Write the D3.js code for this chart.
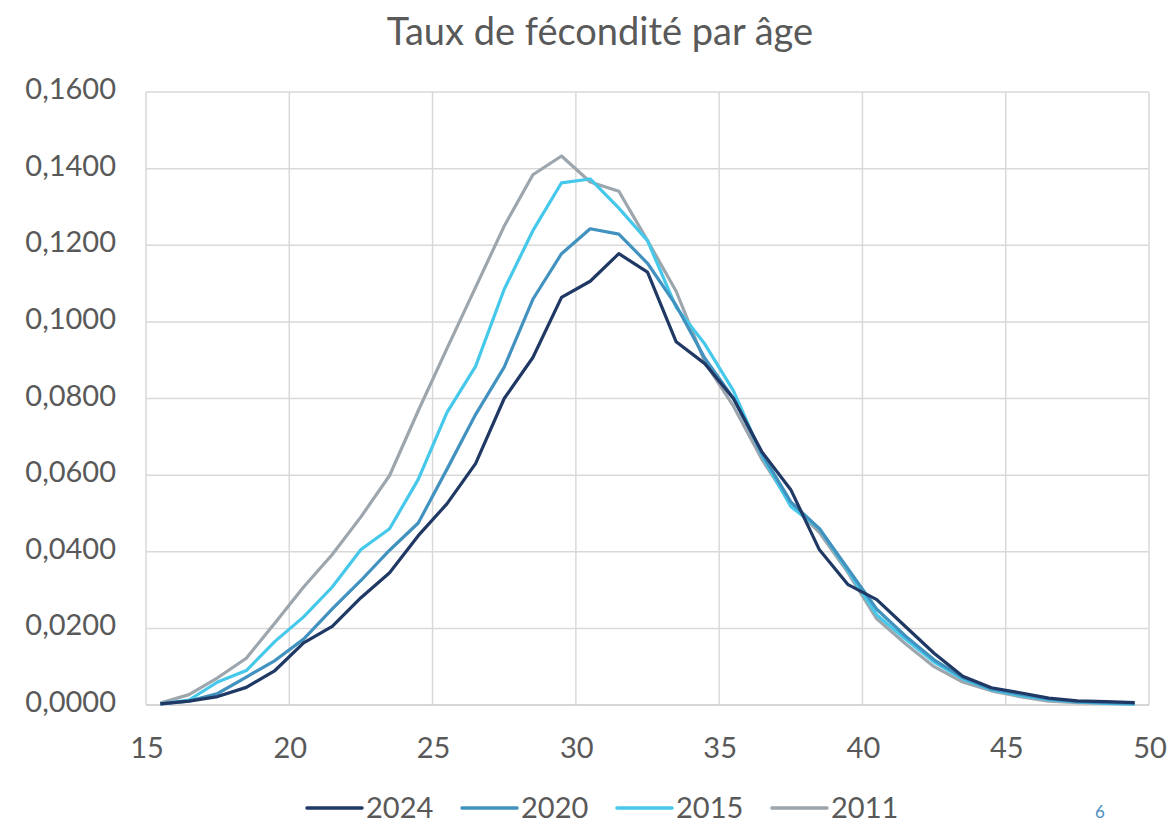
<!DOCTYPE html>
<html>
<head>
<meta charset="utf-8">
<script src="https://cdn.jsdelivr.net/npm/d3@7"></script>
<style>
	body { margin: 0; background: #fff; }
	text { font-family: Lato, "Open Sans", sans-serif; fill: #595959; }
</style>
</head>
<body>
<svg id="chart"></svg>
<script>
'use strict';

var WIDTH = 1170,
	HEIGHT = 824;

var margin = { top: 92, right: 21, bottom: 119, left: 146 };

// ages (mid-year), one value per age from 15.5 to 49.5
var ages = d3.range(15.5, 50, 1);

var years = ['2024', '2020', '2015', '2011'];

var rates2024 = [0.0003, 0.0010, 0.0022, 0.0046, 0.0090, 0.0162, 0.0205, 0.0280, 0.0345, 0.0442,
	0.0525, 0.0630, 0.0800, 0.0907, 0.1064, 0.1106, 0.1178, 0.1130, 0.0948, 0.0891,
	0.0800, 0.0660, 0.0562, 0.0405, 0.0314, 0.0275, 0.0205, 0.0135, 0.0075, 0.0045,
	0.0032, 0.0018, 0.0011, 0.0009, 0.0006];

var rates2020 = [0.0003, 0.0010, 0.0030, 0.0073, 0.0116, 0.0172, 0.0251, 0.0325, 0.0404, 0.0475,
	0.0615, 0.0758, 0.0882, 0.1059, 0.1178, 0.1243, 0.1229, 0.1153, 0.1043, 0.0905,
	0.0800, 0.0655, 0.0530, 0.0460, 0.0355, 0.0250, 0.0180, 0.0118, 0.0072, 0.0042,
	0.0028, 0.0016, 0.0009, 0.0006, 0.0004];

var rates2015 = [0.0003, 0.0013, 0.0060, 0.0090, 0.0166, 0.0230, 0.0308, 0.0406, 0.0460, 0.0589,
	0.0763, 0.0884, 0.1085, 0.1238, 0.1363, 0.1373, 0.1297, 0.1212, 0.1038, 0.0942,
	0.0820, 0.0650, 0.0518, 0.0460, 0.0350, 0.0235, 0.0172, 0.0112, 0.0068, 0.0040,
	0.0025, 0.0014, 0.0008, 0.0004, 0.0002];

var rates2011 = [0.0005, 0.0027, 0.0071, 0.0122, 0.0214, 0.0308, 0.0393, 0.0491, 0.0599, 0.0768,
	0.0930, 0.1090, 0.1250, 0.1384, 0.1433, 0.1365, 0.1341, 0.1212, 0.1080, 0.0895,
	0.0780, 0.0640, 0.0525, 0.0450, 0.0345, 0.0225, 0.0160, 0.0100, 0.0060, 0.0037,
	0.0022, 0.0010, 0.0006, 0.0004, 0.0002];

var xTicks = [15, 20, 25, 30, 35, 40, 45, 50];
var yTicks = [0, 0.02, 0.04, 0.06, 0.08, 0.10, 0.12, 0.14, 0.16];

var colors = ['#1f3864', '#4292c0', '#45c8ea', '#9da5ad'];

var series = [rates2024, rates2020, rates2015, rates2011].map(function (vals, i) {
	return { name: years[i], color: colors[i], values: vals.map(function (v, j) { return [ages[j], v]; }) };
});

var svg = d3.select('#chart')
	.attr('width', WIDTH)
	.attr('height', HEIGHT);

var x = d3.scaleLinear()
	.domain([15, 50])
	.range([margin.left, WIDTH - margin.right]);

var y = d3.scaleLinear()
	.domain([0, 0.16])
	.range([HEIGHT - margin.bottom, margin.top]);

var frFormat = function (d) {
	return d3.format('.4f')(d).replace('.', ',');
};

// grid
svg.append('g')
	.selectAll('line')
	.data(yTicks.slice(1))
	.enter()
	.append('line')
	.attr('x1', x(15))
	.attr('x2', x(50))
	.attr('y1', function (d) { return y(d); })
	.attr('y2', function (d) { return y(d); })
	.style('stroke', '#d9d9d9')
	.style('stroke-width', 1.5);

svg.append('g')
	.selectAll('line')
	.data(xTicks)
	.enter()
	.append('line')
	.attr('x1', function (d) { return x(d); })
	.attr('x2', function (d) { return x(d); })
	.attr('y1', y(0))
	.attr('y2', y(0.16))
	.style('stroke', '#d9d9d9')
	.style('stroke-width', 1.5);

// x axis line
svg.append('line')
	.attr('x1', x(15))
	.attr('x2', x(50))
	.attr('y1', y(0))
	.attr('y2', y(0))
	.style('stroke', '#c8c8c8')
	.style('stroke-width', 1.5);

// tick labels
svg.append('g')
	.selectAll('text')
	.data(yTicks)
	.enter()
	.append('text')
	.attr('x', 116)
	.attr('y', function (d) { return y(d) + 7; })
	.style('text-anchor', 'end')
	.style('font-size', '29px')
	.text(frFormat);

svg.append('g')
	.selectAll('text')
	.data(xTicks)
	.enter()
	.append('text')
	.attr('x', function (d) { return x(d) + 1; })
	.attr('y', 758)
	.style('text-anchor', 'middle')
	.style('font-size', '29px')
	.text(function (d) { return d; });

// lines
var line = d3.line()
	.x(function (d) { return x(d[0]); })
	.y(function (d) { return y(d[1]); });

svg.append('g')
	.selectAll('path')
	.data(series.slice().reverse())
	.enter()
	.append('path')
	.attr('d', function (d) { return line(d.values); })
	.style('fill', 'none')
	.style('stroke', function (d) { return d.color; })
	.style('stroke-width', 3.2)
	.style('stroke-linejoin', 'round');

// title
svg.append('text')
	.attr('x', 600)
	.attr('y', 45)
	.style('text-anchor', 'middle')
	.style('font-size', '38px')
	.text('Taux de fécondité par âge');

// legend
var legendX = [307, 462, 617, 772];

var legend = svg.append('g')
	.selectAll('g')
	.data(series)
	.enter()
	.append('g')
	.attr('transform', function (d, i) { return 'translate(' + legendX[i] + ',808)'; });

legend.append('line')
	.attr('x1', 0)
	.attr('x2', 55)
	.style('stroke', function (d) { return d.color; })
	.style('stroke-width', 3.5)
	.style('stroke-linecap', 'round');

legend.append('text')
	.attr('x', 59)
	.attr('y', 10)
	.style('font-size', '29px')
	.text(function (d) { return d.name; });

// page number
svg.append('text')
	.attr('x', 1100)
	.attr('y', 818)
	.style('text-anchor', 'middle')
	.style('font-size', '17px')
	.style('fill', '#4a8fc0')
	.text('6');
</script>
</body>
</html>
